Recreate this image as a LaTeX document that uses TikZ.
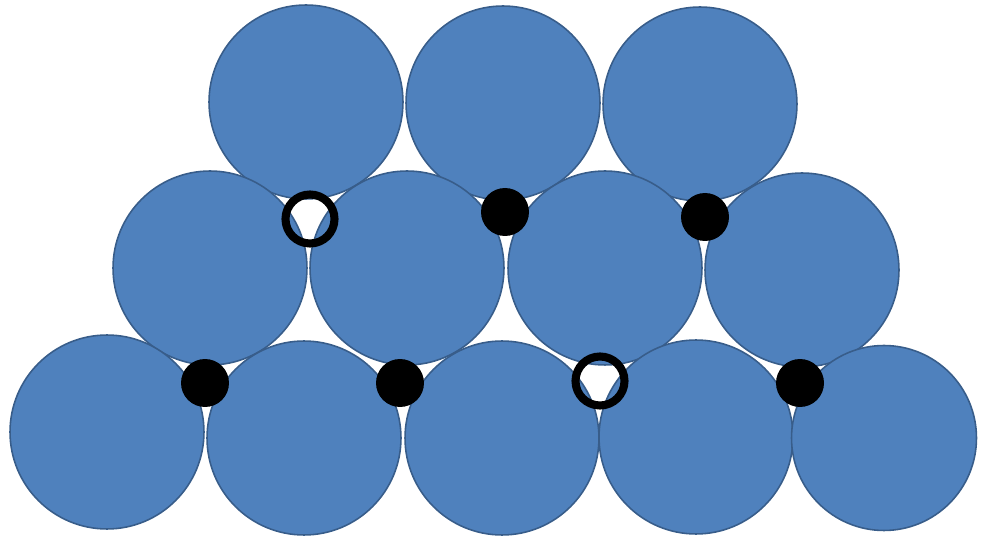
\documentclass[tikz,border=0pt]{standalone}
\definecolor{ballfill}{HTML}{4F81BD}
\definecolor{balledge}{HTML}{385D8A}
\tikzset{
  ball/.style={circle, inner sep=0pt, minimum size=3.88cm, fill=ballfill, draw=balledge, line width=0.9pt},
  smallball/.style={ball, minimum size=3.70cm},
  dot/.style={circle, inner sep=0pt, minimum size=0.96cm, fill=black},
  ring/.style={circle, inner sep=0pt, minimum size=0.98cm, draw=black, line width=4.6pt}
}
\begin{document}
\begin{tikzpicture}[x=0.02cm,y=-0.02cm]
\useasboundingbox (0,0) rectangle (984,536);
% top row
\node[ball] (t1) at (306,102) {};
\node[ball] (t2) at (503,103) {};
\node[ball] (t3) at (700,104) {};
% middle row
\node[ball] (m1) at (210,268) {};
\node[ball] (m2) at (407,268) {};
\node[ball] (m3) at (605,268) {};
\node[ball] (m4) at (802,270) {};
% bottom row
\node[ball] (b1) at (107,432) {};
\node[ball] (b2) at (304,438) {};
\node[ball] (b3) at (502,438) {};
\node[ball] (b4) at (696,437) {};
\node[smallball] (b5) at (884,438) {};
% interstitial markers
\node[ring] (r1) at (310,219) {};
\node[dot] (d1) at (505,212) {};
\node[dot] (d2) at (705,217) {};
\node[dot] (d3) at (205,383) {};
\node[dot] (d4) at (400,383) {};
\node[ring] (r2) at (600,381) {};
\node[dot] (d5) at (800,383) {};
\end{tikzpicture}
\end{document}
